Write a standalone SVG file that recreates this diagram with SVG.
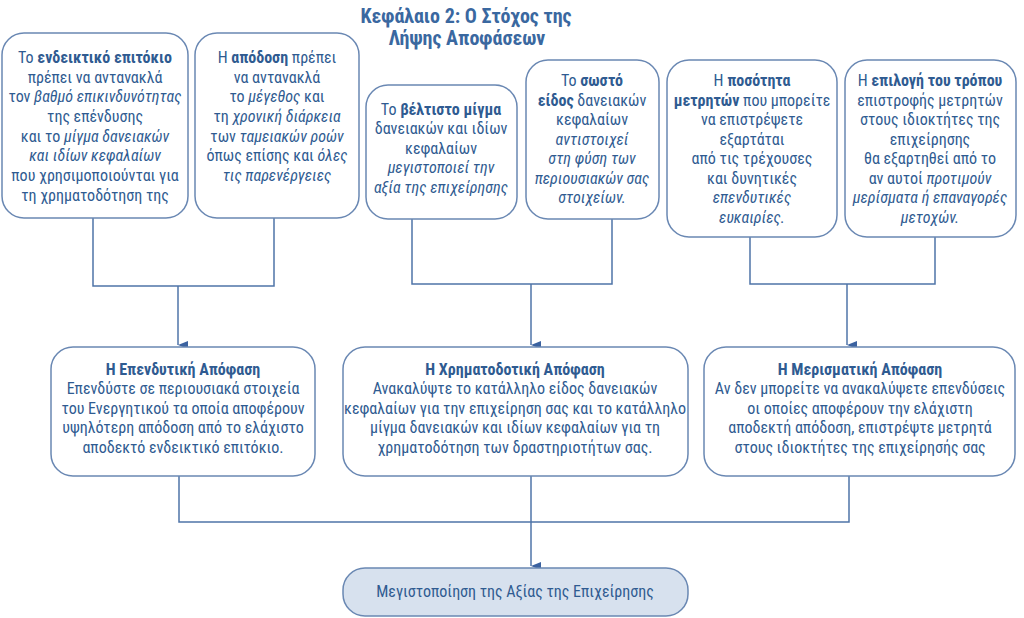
<svg xmlns="http://www.w3.org/2000/svg" width="1024" height="618" viewBox="0 0 1024 618">
<defs>
<marker id="arr" markerWidth="8" markerHeight="10" refX="4" refY="10" orient="auto-start-reverse" markerUnits="userSpaceOnUse" viewBox="0 0 8 10">
<path d="M0,0 L8,0 L4,10 Z" fill="#3b62a0"/>
</marker>
<style>
.box{fill:#ffffff;stroke:#6a88b3;stroke-width:1.5}
.fin{fill:#d7e1ee;stroke:#6a88b3;stroke-width:1.5}
.t{font-family:"Liberation Sans Narrow","Roboto Condensed","Liberation Sans",sans-serif;font-size:16px;fill:#2f5b91;text-anchor:middle}
.title{font-family:"Liberation Sans Narrow","Roboto Condensed","Liberation Sans",sans-serif;font-size:20px;font-weight:bold;fill:#3a68a0;text-anchor:middle}
.b{font-weight:bold}
.i{font-style:italic}
.c{fill:none;stroke:#4f74a8;stroke-width:1.5}
</style>
</defs>
<rect width="1024" height="618" fill="#ffffff"/>

<g id="title">
<text class="title" x="466" y="23">Κεφάλαιο 2: Ο Στόχος της</text>
<text class="title" x="467" y="45">Λήψης Αποφάσεων</text>
</g>

<g id="connectors">
<polyline class="c" points="93,218 93,286 274,286 274,218"/>
<line class="c" x1="178" y1="286" x2="178" y2="345" marker-end="url(#arr)"/>
<polyline class="c" points="412,219 412,284 612,284 612,219"/>
<line class="c" x1="531" y1="284" x2="531" y2="345" marker-end="url(#arr)"/>
<polyline class="c" points="750,237 750,284 935,284 935,237"/>
<line class="c" x1="847" y1="284" x2="847" y2="345" marker-end="url(#arr)"/>
<polyline class="c" points="179,476 179,522 849,522 849,476"/>
<line class="c" x1="531" y1="476" x2="531" y2="566" marker-end="url(#arr)"/>
</g>

<g id="n1">
<rect class="box" x="2" y="33" width="186" height="185" rx="22"/>
<text class="t" x="95" y="63">Το <tspan class="b">ενδεικτικό επιτόκιο</tspan></text>
<text class="t" x="95" y="83">πρέπει να αντανακλά</text>
<text class="t" x="95" y="102">τον <tspan class="i">βαθμό επικινδυνότητας</tspan></text>
<text class="t" x="95" y="122">της επένδυσης</text>
<text class="t" x="95" y="142">και το <tspan class="i">μίγμα δανειακών</tspan></text>
<text class="t" x="95" y="161" font-style="italic">και ιδίων κεφαλαίων</text>
<text class="t" x="95" y="181">που χρησιμοποιούνται για</text>
<text class="t" x="95" y="201">τη χρηματοδότηση της</text>
</g>

<g id="n2">
<rect class="box" x="195" y="33" width="164" height="185" rx="22"/>
<text class="t" x="277" y="63">Η <tspan class="b">απόδοση</tspan> πρέπει</text>
<text class="t" x="277" y="83">να αντανακλά</text>
<text class="t" x="277" y="102">το <tspan class="i">μέγεθος</tspan> και</text>
<text class="t" x="277" y="122">τη <tspan class="i">χρονική διάρκεια</tspan></text>
<text class="t" x="277" y="142">των <tspan class="i">ταμειακών ροών</tspan></text>
<text class="t" x="277" y="161">όπως επίσης και <tspan class="i">όλες</tspan></text>
<text class="t" x="277" y="181" font-style="italic">τις παρενέργειες</text>
</g>

<g id="n3">
<rect class="box" x="366" y="85" width="151" height="134" rx="22"/>
<text class="t" x="441" y="115">Το <tspan class="b">βέλτιστο μίγμα</tspan></text>
<text class="t" x="441" y="134">δανειακών και ιδίων</text>
<text class="t" x="441" y="154">κεφαλαίων</text>
<text class="t" x="441" y="173" font-style="italic">μεγιστοποιεί την</text>
<text class="t" x="441" y="193" font-style="italic">αξία της επιχείρησης</text>
</g>

<g id="n4">
<rect class="box" x="526" y="60" width="133" height="159" rx="22"/>
<text class="t" x="592" y="86">Το <tspan class="b">σωστό</tspan></text>
<text class="t" x="592" y="106"><tspan class="b">είδος</tspan> δανειακών</text>
<text class="t" x="592" y="125">κεφαλαίων</text>
<text class="t" x="592" y="145" font-style="italic">αντιστοιχεί</text>
<text class="t" x="592" y="164" font-style="italic">στη φύση των</text>
<text class="t" x="592" y="184" font-style="italic">περιουσιακών σας</text>
<text class="t" x="592" y="203" font-style="italic">στοιχείων.</text>
</g>

<g id="n5">
<rect class="box" x="667" y="60" width="170" height="177" rx="22"/>
<text class="t" x="752" y="86">Η <tspan class="b">ποσότητα</tspan></text>
<text class="t" x="752" y="106"><tspan class="b">μετρητών</tspan> που μπορείτε</text>
<text class="t" x="752" y="125">να επιστρέψετε</text>
<text class="t" x="752" y="145">εξαρτάται</text>
<text class="t" x="752" y="164">από τις τρέχουσες</text>
<text class="t" x="752" y="184">και δυνητικές</text>
<text class="t" x="752" y="203" font-style="italic">επενδυτικές</text>
<text class="t" x="752" y="223" font-style="italic">ευκαιρίες.</text>
</g>

<g id="n6">
<rect class="box" x="845" y="60" width="171" height="177" rx="22"/>
<text class="t" x="930" y="86">Η <tspan class="b">επιλογή του τρόπου</tspan></text>
<text class="t" x="930" y="106">επιστροφής μετρητών</text>
<text class="t" x="930" y="125">στους ιδιοκτήτες της</text>
<text class="t" x="930" y="145">επιχείρησης</text>
<text class="t" x="930" y="164">θα εξαρτηθεί από το</text>
<text class="t" x="930" y="184">αν αυτοί <tspan class="i">προτιμούν</tspan></text>
<text class="t" x="930" y="203" font-style="italic">μερίσματα ή επαναγορές</text>
<text class="t" x="930" y="223" font-style="italic">μετοχών.</text>
</g>

<g id="m1">
<rect class="box" x="51" y="347" width="264" height="129" rx="22"/>
<text class="t b" x="183" y="375">Η Επενδυτική Απόφαση</text>
<text class="t" x="183" y="394">Επενδύστε σε περιουσιακά στοιχεία</text>
<text class="t" x="183" y="414">του Ενεργητικού τα οποία αποφέρουν</text>
<text class="t" x="183" y="433">υψηλότερη απόδοση από το ελάχιστο</text>
<text class="t" x="183" y="453">αποδεκτό ενδεικτικό επιτόκιο.</text>
</g>

<g id="m2">
<rect class="box" x="343" y="347" width="345" height="129" rx="22"/>
<text class="t b" x="515" y="375">Η Χρηματοδοτική Απόφαση</text>
<text class="t" x="515" y="394">Ανακαλύψτε το κατάλληλο είδος δανειακών</text>
<text class="t" x="515" y="414">κεφαλαίων για την επιχείρηση σας και το κατάλληλο</text>
<text class="t" x="515" y="433">μίγμα δανειακών και ιδίων κεφαλαίων για τη</text>
<text class="t" x="515" y="453">χρηματοδότηση των δραστηριοτήτων σας.</text>
</g>

<g id="m3">
<rect class="box" x="704" y="347" width="311" height="129" rx="22"/>
<text class="t b" x="860" y="375">Η Μερισματική Απόφαση</text>
<text class="t" x="860" y="394">Αν δεν μπορείτε να ανακαλύψετε επενδύσεις</text>
<text class="t" x="860" y="414">οι οποίες αποφέρουν την ελάχιστη</text>
<text class="t" x="860" y="433">αποδεκτή απόδοση, επιστρέψτε μετρητά</text>
<text class="t" x="860" y="453">στους ιδιοκτήτες της επιχείρησής σας</text>
</g>

<g id="final">
<rect class="fin" x="343" y="568" width="345" height="48" rx="22"/>
<text class="t" x="515" y="597">Μεγιστοποίηση της Αξίας της Επιχείρησης</text>
</g>
</svg>
